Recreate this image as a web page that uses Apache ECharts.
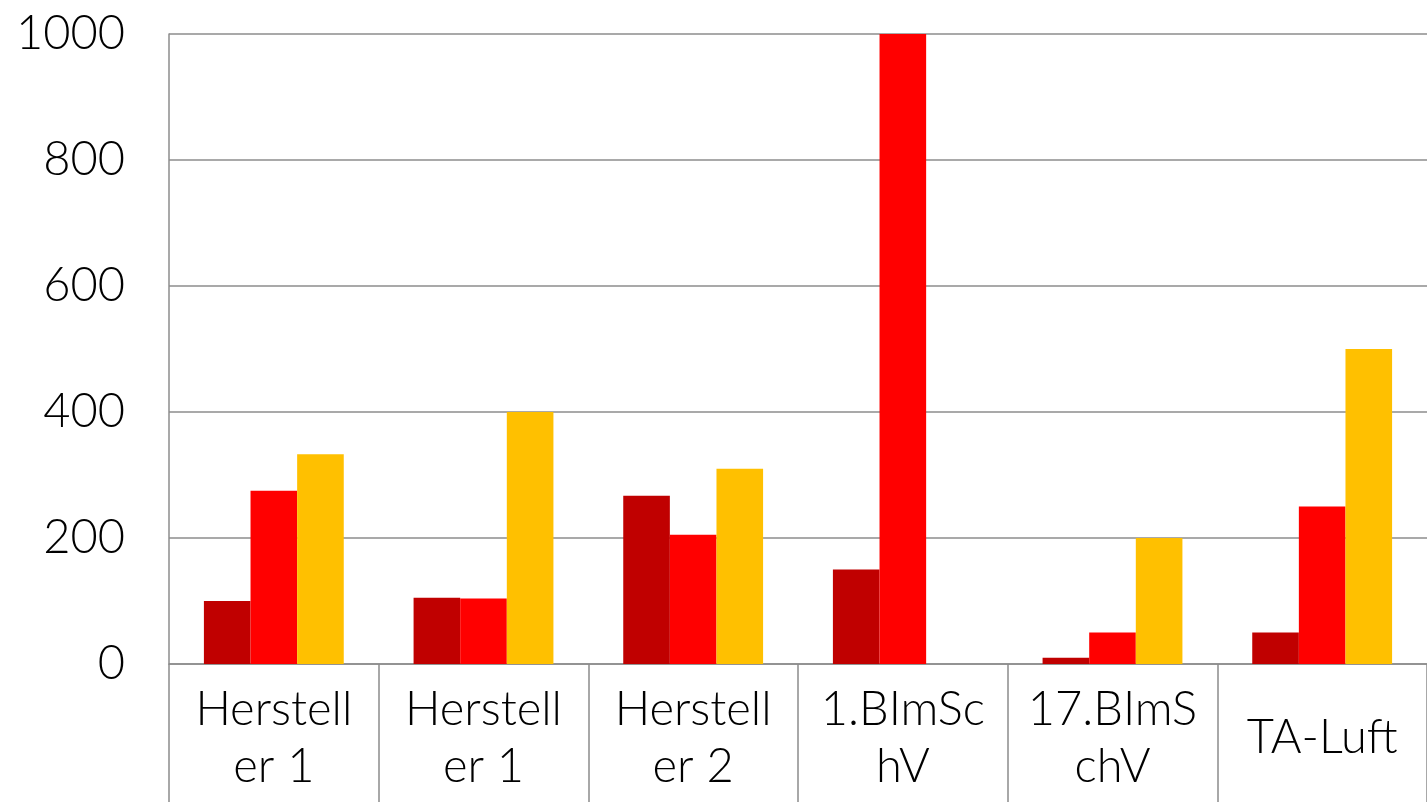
<!DOCTYPE html>
<html>
<head>
<meta charset="utf-8">
<script src="https://cdn.jsdelivr.net/npm/echarts@6/dist/echarts.min.js"></script>
<style>html,body{margin:0;padding:0;background:#fff;}#c{width:1427px;height:802px;}</style>
</head>
<body>
<div id="c"></div>
<script>
const categories = ["Herstell\ner 1", "Herstell\ner 1", "Herstell\ner 2", "1.BImSc\nhV", "17.BImS\nchV", "TA-Luft"];
const seriesA = [100, 105, 267, 150, 10, 50];
const seriesB = [275, 104, 205, 1000, 50, 250];
const seriesC = [333, 400, 310, null, 200, 500];
const yTicks = { min: 0, max: 1000, interval: 200 };

const chart = echarts.init(document.getElementById('c'));
const font = "Lato, 'Open Sans', sans-serif";
function bar(name, data, color) {
  return { name, type: 'bar', data, barGap: '0%', barCategoryGap: '33.3%',
    itemStyle: { color }, animation: false };
}
chart.setOption({
  animation: false,
  grid: { left: 169, right: -2, top: 34, bottom: 138 },
  xAxis: {
    type: 'category', data: categories,
    axisLine: { show: true, lineStyle: { color: '#8c8c8c', width: 1.5 } },
    axisTick: { show: true, length: 140, alignWithLabel: false, lineStyle: { color: '#8c8c8c', width: 1.5 } },
    axisLabel: { color: '#000', fontSize: 47, fontWeight: 300, fontFamily: font, lineHeight: 57,
      margin: 74, verticalAlign: 'middle', interval: 0 }
  },
  yAxis: {
    type: 'value', min: yTicks.min, max: yTicks.max, interval: yTicks.interval,
    axisLine: { show: true, lineStyle: { color: '#8c8c8c', width: 1.5 } },
    axisTick: { show: false },
    splitLine: { lineStyle: { color: '#8c8c8c', width: 1.5 } },
    axisLabel: { color: '#000', fontSize: 47, fontWeight: 300, fontFamily: font, margin: 44,
      formatter: v => String(v) }
  },
  series: [
    bar('A', seriesA, '#C00000'),
    bar('B', seriesB, '#FF0000'),
    bar('C', seriesC, '#FFC000')
  ]
});
</script>
</body>
</html>
